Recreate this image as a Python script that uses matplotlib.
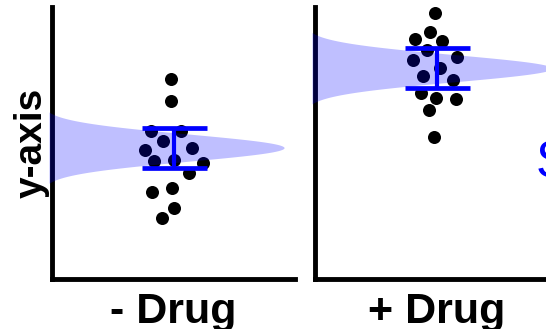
import numpy as np
import matplotlib.pyplot as plt

plt.rcParams['font.family'] = ['Liberation Sans', 'DejaVu Sans']

# group labels
groups = ["- Drug", "+ Drug"]

# individual points (x = jitter around group centre, y = value)
minus_x = [-0.02, -0.02, -0.185, 0.062, -0.086, -0.235, 0.152, -0.16, 0.0, 0.243, 0.128, -0.177, -0.012, 0.004, -0.095]
minus_y = [73.5, 65.4, 54.4, 54.4, 50.7, 47.4, 48.2, 43.4, 43.8, 42.6, 39.0, 32.0, 33.5, 26.1, 22.4]
plus_x = [-0.012, -0.053, -0.177, 0.045, -0.078, -0.193, 0.169, 0.029, -0.111, 0.136, -0.128, -0.004, 0.16, -0.062, -0.021]
plus_y = [97.8, 90.8, 88.2, 87.5, 84.2, 80.5, 81.6, 77.6, 74.6, 73.2, 68.4, 66.5, 66.2, 62.1, 52.2]

# mean +/- error bars
means = [48.3, 77.5]
errs = [7.35, 7.35]

# shaded distribution of the mean (normal shape): spread and peak length
dist_sd = [5.0, 5.0]
dist_peak = [2.0, 2.04]
dist_shift = 0.09

fig = plt.figure(figsize=(5.46, 3.29), dpi=100)
ax1 = fig.add_axes([52 / 546, 50 / 329, 243 / 546, 272 / 329])
ax2 = fig.add_axes([315 / 546, 50 / 329, 243 / 546, 272 / 329])

data = [(minus_x, minus_y), (plus_x, plus_y)]

for i, ax in enumerate([ax1, ax2]):
    xs, ys = data[i]
    ax.scatter(xs, ys, s=88, color="black", linewidths=0, zorder=2)

    #curva normal deitada saindo do eixo y
    yy = np.linspace(means[i] - 4 * dist_sd[i], means[i] + 4 * dist_sd[i], 400)
    xx = -1 - dist_shift + dist_peak[i] * np.exp(-0.5 * ((yy - means[i]) / dist_sd[i]) ** 2)
    x_left = -1.025
    ax.fill_betweenx(yy, x_left, xx, where=xx > x_left, interpolate=True,
                     color="blue", alpha=0.25, linewidth=0, zorder=3, clip_on=False)

    ax.errorbar(0, means[i], yerr=errs[i], fmt="none", ecolor="blue",
                elinewidth=3, capsize=23.4, capthick=3.4, zorder=4)

    ax.set_xlim(-1, 1)
    ax.set_ylim(0, 100)
    ax.set_xticks([])
    ax.set_yticks([])
    for side in ["top", "right"]:
        ax.spines[side].set_visible(False)
    for side in ["left", "bottom"]:
        ax.spines[side].set_linewidth(3.5)
        ax.spines[side].set_color("black")
    ax.set_xlabel(groups[i], fontsize=31, fontweight="bold", labelpad=9)

ax1.set_ylabel("y-axis", fontsize=28, fontweight="bold", labelpad=1.5)

fig.text(536 / 546, 1 - 177 / 329, "S", color="blue", fontsize=37, ha="left", va="baseline")

plt.savefig("out.png", dpi=100)
